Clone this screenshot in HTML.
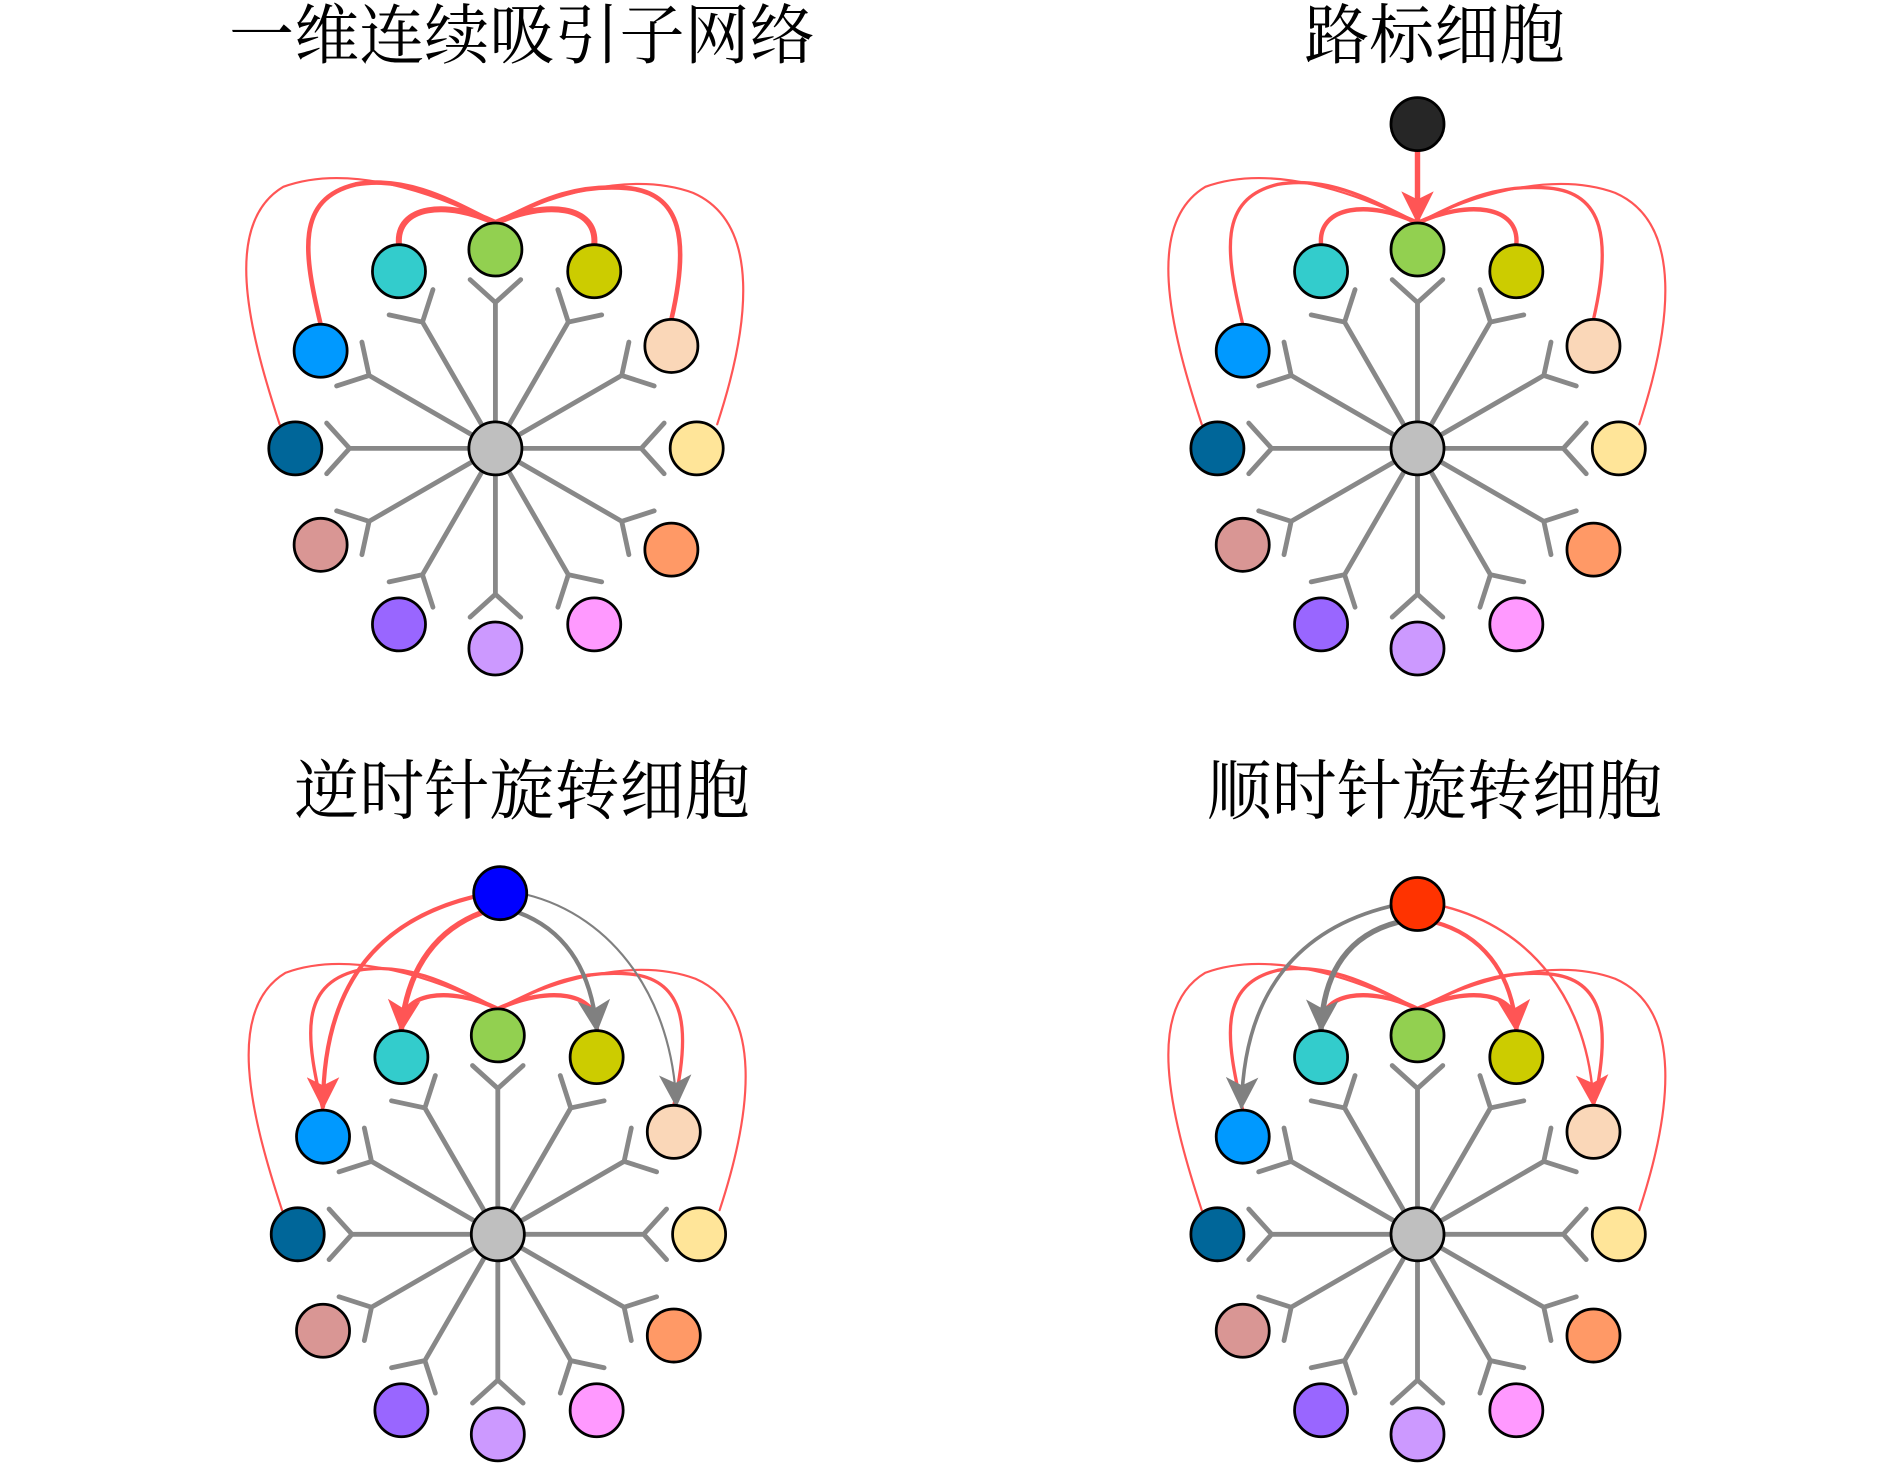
<!DOCTYPE html>
<html><head><meta charset="utf-8"><style>
html,body{margin:0;padding:0;background:#fff;width:1890px;height:1465px;overflow:hidden}
svg{display:block;position:absolute;left:0;top:0}
text{font-family:"Liberation Serif","Noto Serif CJK SC","Noto Sans CJK SC",serif;font-size:54px;fill:#000;text-anchor:middle}
</style></head><body>
<svg id="s" width="1890" height="1465" viewBox="0 0 1568 1215.4" preserveAspectRatio="none" xmlns="http://www.w3.org/2000/svg">
<defs>
<marker id="ar" viewBox="0 0 10 10" refX="9" refY="5" markerWidth="27" markerHeight="27" markerUnits="userSpaceOnUse" orient="auto"><path d="M0,0 L10,5 L0,10 L2.5,5z" fill="#ff5555"/></marker>
<marker id="ag" viewBox="0 0 10 10" refX="9" refY="5" markerWidth="27" markerHeight="27" markerUnits="userSpaceOnUse" orient="auto"><path d="M0,0 L10,5 L0,10 L2.5,5z" fill="#808080"/></marker>
</defs>
<text x="433" y="48">一维连续吸引子网络</text>
<text x="1190" y="48">路标细胞</text>
<text x="433" y="675">逆时针旋转细胞</text>
<text x="1190" y="675">顺时针旋转细胞</text>
<g id="g"></g>
</svg>
<script>
var g=document.getElementById('g'),h='';
var cols=['#92d050','#cccc00','#fad7b8','#ffe599','#ff9966','#ff99ff','#cc99ff','#9966ff','#d99694','#006699','#0099ff','#33cccc'];
var pos=[[411,207],[493,225],[557,287],[578,372],[557,456],[493,518],[411,538],[331,518],[266,452],[245,372],[266,291],[331,225]];
var R='#ff5555';
function P(d,c,w,m){h+='<path d="'+d+'" fill="none" stroke="'+c+'" stroke-width="'+w+'" stroke-linecap="round"'+(m?' marker-end="url(#'+m+')"':'')+'/>';}
function C(x,y,f){h+='<circle cx="'+x+'" cy="'+y+'" r="22" fill="'+f+'" stroke="#000" stroke-width="2.3"/>';}
function panel(ox,oy,extra){
 var cx=411+ox,cy=372+oy;
 function t(s){return s.replace(/(-?\d+\.?\d*),(-?\d+\.?\d*)/g,function(a,x,y){return (+x+ox)+','+(+y+oy);});}
 for(var i=0;i<12;i++){var a=i*Math.PI/6,ux=Math.sin(a),uy=-Math.cos(a),px=Math.cos(a),py=Math.sin(a);
  var vx=cx+121*ux,vy=cy+121*uy;
  P('M'+cx+','+cy+' L'+vx+','+vy+' M'+(vx+19*ux+21*px)+','+(vy+19*uy+21*py)+' L'+vx+','+vy+' L'+(vx+19*ux-21*px)+','+(vy+19*uy-21*py),'#888',4);}
 var w=extra?0.7:1;
 P(t('M331,203 C328,170 372,166 411,185'),R,4.5*w+0.5);
 P(t('M493,203 C496,170 452,166 411,185'),R,4.5*w+0.5);
 P(t('M266,269 C252,210 245,165 295,153 C340,145 380,170 411,185'),R,3.5*w+0.3);
 P(t('M557,265 C572,200 566,160 520,156 C470,152 440,172 411,185'),R,3.5*w+0.3);
 P(t('M232,352 C205,270 185,185 235,155 C290,135 360,160 411,185'),R,1.8);
 P(t('M595,352 C622,270 632,185 575,160 C520,140 450,165 411,185'),R,1.8);
 if(extra)extra(t);
 C(cx,cy,'#bfbfbf');
 for(var i=0;i<12;i++){C(pos[i][0]+ox,pos[i][1]+oy,cols[i]);}
}
panel(0,0);
panel(765,0,function(t){P(t('M411,125 L411,183'),R,4.5,'ar');C(1176,103,'#262626');});
panel(2,652,function(t){
 P('M400,757 C365,770 338,800 333,854',R,4.5,'ar');
 P('M393,744 C320,762 268,810 268,918',R,3.5,'ar');
 P('M430,757 C465,770 490,800 495,854','#808080',3.5,'ag');
 P('M436,742 C510,760 558,830 561,916','#808080',1.8,'ag');
 C(415,741,'#0000ff');
});
panel(765,652,function(t){
 P('M1160,765 C1120,775 1098,805 1096,854','#808080',4.5,'ag');
 P('M1153,752 C1080,770 1032,820 1030,918','#808080',3,'ag');
 P('M1190,765 C1228,775 1254,805 1258,854',R,3.5,'ar');
 P('M1198,752 C1270,770 1318,830 1322,916',R,2,'ar');
 C(1176,750,'#ff3300');
});
g.innerHTML=h;
</script>
</body></html>
